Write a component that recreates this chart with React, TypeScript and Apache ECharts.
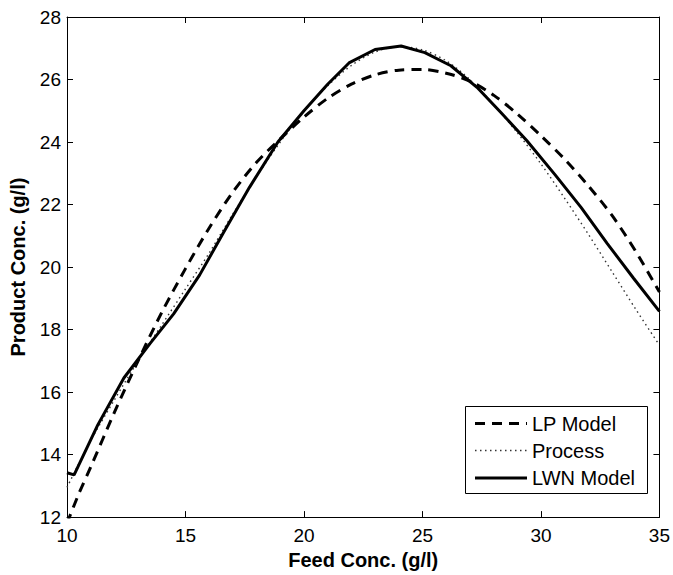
import React, { useEffect, useRef } from "react";
import * as echarts from "echarts";

// Feed concentration (g/l) sample points and product concentration (g/l) per curve
const lpFeed = [10, 10.5, 11, 12, 13, 14, 15, 16, 17, 18, 19, 20, 21, 22, 23, 24, 25, 26, 27, 28, 29, 30, 31, 32, 33, 34, 35];
const lpModel = [11.8, 12.75, 13.6, 15.35, 17.0, 18.55, 19.95, 21.25, 22.4, 23.35, 24.1, 24.8, 25.4, 25.85, 26.15, 26.3, 26.32, 26.2, 25.95, 25.5, 24.9, 24.2, 23.45, 22.6, 21.65, 20.5, 19.2];

const procFeed = [10, 11, 12, 13, 14, 15, 16, 17, 18, 19, 20, 21, 22, 23, 24, 25, 26, 27, 28, 29, 30, 31, 32, 33, 34, 35];
const process = [12.95, 14.45, 15.75, 17.0, 18.15, 19.3, 20.45, 21.7, 22.9, 24.0, 25.0, 25.8, 26.45, 26.88, 27.05, 26.95, 26.6, 26.0, 25.2, 24.3, 23.3, 22.2, 21.05, 19.85, 18.65, 17.5];

const lwnFeed = [10, 10.3, 11.3, 12.4, 13.5, 14.5, 15.6, 16.6, 17.7, 18.9, 20.0, 21.0, 21.9, 23.0, 24.1, 25.1, 26.2, 27.3, 28.3, 29.4, 30.6, 31.7, 32.8, 33.9, 35];
const lwnModel = [13.42, 13.35, 14.95, 16.45, 17.55, 18.5, 19.75, 21.1, 22.55, 24.0, 25.0, 25.85, 26.53, 26.96, 27.07, 26.86, 26.44, 25.75, 24.95, 24.05, 22.95, 21.9, 20.75, 19.65, 18.58];

const legendNames = ["LP Model", "Process", "LWN Model"];
const xTitle = "Feed Conc. (g/l)";
const yTitle = "Product Conc. (g/l)";

const pairs = (xs: number[], ys: number[]) => xs.map((x, i) => [x, ys[i]]);

const FONT = "'Liberation Sans', Arial, Helvetica, sans-serif";

const styles = [
  { color: "#000", width: 3, dash: [10, 7] as number[] | null },
  { color: "#333", width: 1.4, dash: [1.5, 3.5] as number[] | null },
  { color: "#000", width: 3, dash: null as number[] | null },
];

export default function App() {
  const ref = useRef<HTMLDivElement>(null);
  useEffect(() => {
    if (!ref.current) return;
    const chart = echarts.init(ref.current, undefined, { renderer: "svg" });
    const axisCommon = {
      axisLine: { show: true, onZero: false, lineStyle: { color: "#000", width: 1 } },
      axisTick: { show: true, inside: true, length: 6, lineStyle: { color: "#000" } },
      splitLine: { show: false },
    };
    const legendTop = 406;
    const rowYs = [423.5, 450.5, 478];
    const legendGraphics: any[] = [
      {
        type: "rect", z: 100,
        shape: { x: 465.5, y: legendTop + 0.5, width: 182, height: 87 },
        style: { fill: "#fff", stroke: "#000", lineWidth: 1 },
      },
    ];
    legendNames.forEach((name, i) => {
      const s = styles[i];
      legendGraphics.push({
        type: "line", z: 101,
        shape: { x1: 475, y1: rowYs[i], x2: 527, y2: rowYs[i] },
        style: { stroke: s.color, lineWidth: s.width, lineDash: s.dash || undefined },
      });
      legendGraphics.push({
        type: "text", z: 101, x: 532, y: rowYs[i],
        style: { text: name, fill: "#000", font: `20px ${FONT}`, textVerticalAlign: "middle", verticalAlign: "middle" },
      });
    });
    chart.setOption({
      animation: false,
      backgroundColor: "#fff",
      grid: { left: 67, right: 11, top: 17, bottom: 52, containLabel: false },
      xAxis: [
        {
          type: "value", min: 10, max: 35, interval: 5, position: "bottom",
          ...axisCommon,
          axisLabel: { color: "#000", fontSize: 19, fontFamily: FONT, margin: 9 },
          name: xTitle, nameLocation: "middle", nameGap: 28,
          nameTextStyle: { color: "#000", fontSize: 20, fontWeight: "bold", fontFamily: FONT },
        },
        {
          type: "value", min: 10, max: 35, interval: 5, position: "top",
          ...axisCommon, axisLabel: { show: false },
        },
      ],
      yAxis: [
        {
          type: "value", min: 12, max: 28, interval: 2, position: "left",
          ...axisCommon,
          axisLabel: { color: "#000", fontSize: 19, fontFamily: FONT, margin: 6 },
          name: yTitle, nameLocation: "middle", nameGap: 39,
          nameTextStyle: { color: "#000", fontSize: 20, fontWeight: "bold", fontFamily: FONT },
        },
        {
          type: "value", min: 12, max: 28, interval: 2, position: "right",
          ...axisCommon, axisLabel: { show: false },
        },
      ],
      graphic: legendGraphics,
      series: [
        {
          name: legendNames[0], type: "line", data: pairs(lpFeed, lpModel),
          showSymbol: false, symbol: "none", smooth: 0.3,
          lineStyle: { color: styles[0].color, width: styles[0].width, type: styles[0].dash },
        },
        {
          name: legendNames[1], type: "line", data: pairs(procFeed, process),
          showSymbol: false, symbol: "none", smooth: 0.3,
          lineStyle: { color: styles[1].color, width: styles[1].width, type: styles[1].dash },
        },
        {
          name: legendNames[2], type: "line", data: pairs(lwnFeed, lwnModel),
          showSymbol: false, symbol: "none", smooth: false,
          lineStyle: { color: styles[2].color, width: styles[2].width },
        },
      ],
    });
    return () => chart.dispose();
  }, []);
  return <div ref={ref} style={{ width: 673, height: 575, position: "absolute", left: 0, top: 0 }} />;
}
